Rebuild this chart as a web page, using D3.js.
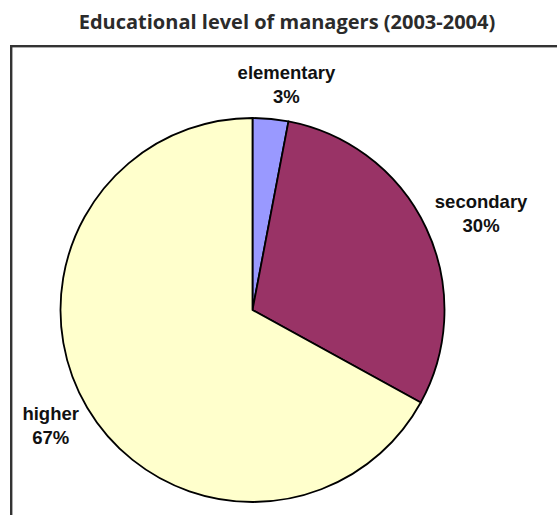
<!DOCTYPE html>
<html>
<head>
<meta charset="utf-8">
<script src="https://cdn.jsdelivr.net/npm/d3@7"></script>
<style>
  html, body { margin: 0; padding: 0; background: #fff; }
  .chart-title { font-family: "Open Sans", Lato, sans-serif; font-weight: 700; fill: #2b2b2b; }
  .slice-label { font-family: "Liberation Sans", Arial, sans-serif; font-weight: 700; fill: #111; }
</style>
</head>
<body>
<div class="pie-container"></div>
<script>
// educational level of managers, 2003-2004

var categories = ["elementary", "secondary", "higher"];
var shares = [3, 30, 67];
var sliceColors = ["#9999ff", "#993366", "#ffffcc"];

var width = 557,
    height = 515,
    cx = 252.5,
    cy = 310,
    radius = 192,
    labelGap = 12;

var svg = d3.select(".pie-container").append("svg")
    .attr("width", width)
    .attr("height", height);

svg.append("text")
    .attr("class", "chart-title")
    .attr("x", 287)
    .attr("y", 29)
    .attr("text-anchor", "middle")
    .style("font-size", "20px")
    .text("Educational level of managers (2003-2004)");

// plot area frame (runs off the right and bottom edge)
svg.append("rect")
    .attr("x", 11.2)
    .attr("y", 46.2)
    .attr("width", 600)
    .attr("height", 600)
    .attr("fill", "none")
    .attr("stroke", "#333")
    .attr("stroke-width", 2.4);

var data = categories.map(function(c, i) {
  return { name: c, value: shares[i], color: sliceColors[i] };
});

var pie = d3.pie()
    .sort(null)
    .value(function(d) { return d.value; });

var arc = d3.arc()
    .innerRadius(0)
    .outerRadius(radius);

var g = svg.append("g")
    .attr("transform", "translate(" + cx + "," + cy + ")");

var arcs = pie(data);

g.selectAll("path")
    .data(arcs)
    .enter()
    .append("path")
    .attr("d", arc)
    .attr("fill", function(d) { return d.data.color; })
    .attr("stroke", "#000")
    .attr("stroke-width", 1.8)
    .attr("stroke-linejoin", "round");

// labels sit just outside the rim, pushed out by half their box
var labels = g.selectAll(".slice-label")
    .data(arcs)
    .enter()
    .append("text")
    .attr("class", "slice-label")
    .attr("text-anchor", "middle")
    .style("font-size", "18.5px");

labels.append("tspan")
    .attr("x", 0)
    .attr("dy", 0)
    .text(function(d) { return d.data.name; });

labels.append("tspan")
    .attr("x", 0)
    .attr("dy", 24.5)
    .text(function(d) { return d.data.value + "%"; });

labels.each(function(d) {
  var box = this.getBBox();
  var a = (d.startAngle + d.endAngle) / 2;
  var r = radius + labelGap;
  var s = Math.sin(a);
  // sideways push grows fast near the top, like excel does
  var push = (s < 0 ? -1 : 1) * Math.sqrt(Math.abs(s));
  var px = s * r + push * box.width / 2;
  var py = -Math.cos(a) * r - Math.cos(a) * box.height / 2;
  var dx = px - (box.x + box.width / 2);
  var dy = py - (box.y + box.height / 2);
  d3.select(this).attr("transform", "translate(" + dx + "," + dy + ")");
});
</script>
</body>
</html>
